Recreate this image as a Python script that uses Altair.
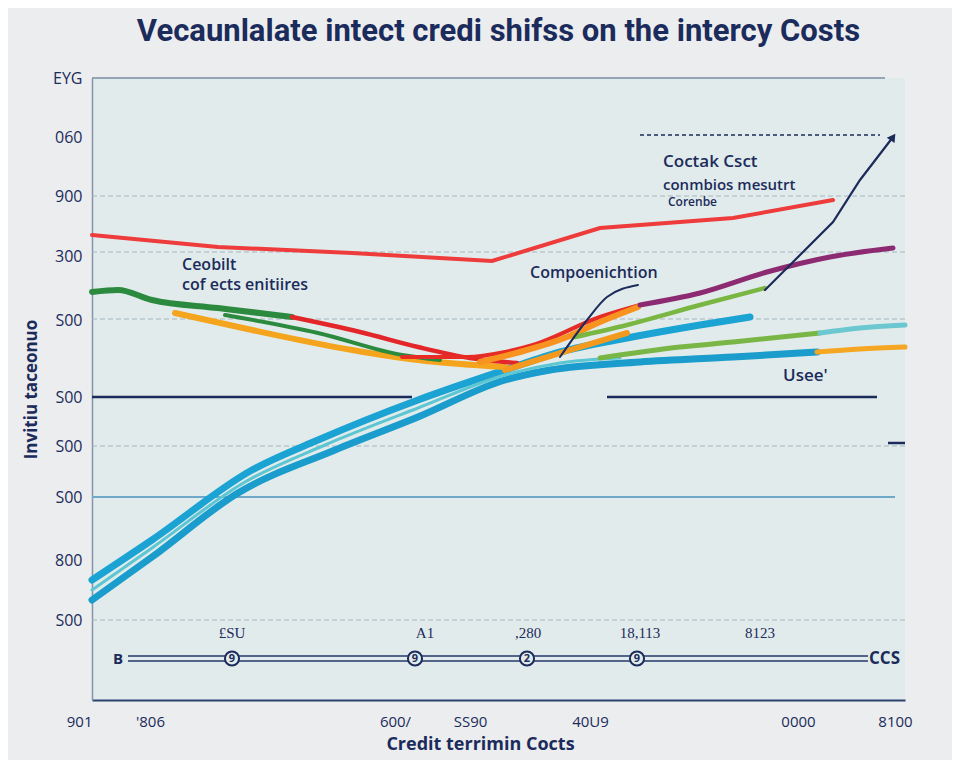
import altair as alt
import pandas as pd

# ---------------- data (chart units) ----------------
red_top_x = [0, 126, 260, 400, 508, 641, 741]
red_top_y = [465, 453, 447, 439, 472, 482, 500]

green_dark_x = [0, 26, 60, 126, 200]
green_dark_y = [408, 410, 400, 392, 383]

red_mid_x = [200, 268, 326, 378, 425]
red_mid_y = [383, 368, 353, 342, 337]

green_low_x = [133, 226, 310, 348]
green_low_y = [385, 367, 345, 340]

orange_main_x = [83, 160, 260, 326, 413]
orange_main_y = [387, 370, 350, 340, 333]

red_low_x = [310, 375, 413, 441, 508, 548]
red_low_y = [343, 343, 348, 355, 383, 395]

orange_up_x = [388, 428, 475, 508, 546]
orange_up_y = [338, 348, 363, 378, 393]

orange_low_x = [413, 478, 535]
orange_low_y = [330, 350, 367]

purple_x = [548, 608, 675, 738, 801]
purple_y = [395, 407, 428, 443, 452]

lime_x = [483, 535, 608, 673]
lime_y = [363, 375, 395, 412]

green_long_x = [508, 588, 641, 728]
green_long_y = [342, 353, 358, 367]

teal_end_x = [728, 768, 813]
teal_end_y = [367, 372, 375]

cyan_top_x = [0, 60, 160, 226, 326, 413, 468, 535, 608, 658]
cyan_top_y = [120, 160, 230, 260, 300, 330, 348, 362, 375, 383]

cyan_bot_x = [0, 60, 146, 243, 326, 413, 458, 548, 641, 725]
cyan_bot_y = [100, 143, 207, 250, 283, 320, 330, 338, 343, 348]

teal_mid_x = [0, 60, 153, 233, 326, 413, 468, 528]
teal_mid_y = [110, 152, 218, 255, 292, 325, 337, 342]

orange_end_x = [725, 768, 813]
orange_end_y = [348, 351, 353]

navy_short_x = [468, 495, 515, 546]
navy_short_y = [343, 380, 403, 415]

navy_arrow_x = [673, 698, 741, 768, 801]
navy_arrow_y = [410, 435, 478, 520, 563]

# axis ticks
y_ticks = [622, 563, 504, 444, 380, 303, 254, 203, 140, 80]
y_labels = ["EYG", "060", "900", "300", "S00", "S00", "S00", "S00", "800", "S00"]
x_ticks = [0, 58, 303, 378, 498, 706, 803]
x_labels = ["901", "'806", "600/", "SS90", "40U9", "0000", "8100"]

# reference lines
grid_y = [504, 448, 381, 254, 80]
solid_x = [0, 515, 0, 796, 0]
solid_x2 = [320, 785, 803, 813, 793]
solid_y = [303, 303, 203, 257, 622]
solid_kind = ["navy", "navy", "blue", "navy", "top"]

# timeline row
tl_line_y = [44, 39]
tl_circle_x = [140, 323, 435, 545]
tl_circle_glyph = ["9", "9", "2", "9"]
tl_label_x = [140, 333, 436, 548, 668]
tl_label_text = ["£SU", "A1", ",280", "18,113", "8123"]

# annotations
note_x = [90, 90, 438, 571, 571, 576, 691]
note_y = [435, 415, 427, 538, 515, 498, 324]
note_text = ["Ceobilt", "cof ects enitiires", "Compoenichtion", "Coctak Csct",
             "conmbios mesutrt", "Corenbe", "Usee'"]
note_size = [16, 16, 16, 17, 15, 12, 17]

NAVY = "#1b2b5b"
BG = "#ebedee"
PLOT_BG = "#e2ebeb"

xs = alt.Scale(domain=[0, 813], nice=False, zero=False)
ys = alt.Scale(domain=[0, 622], nice=False, zero=False)

y_expr = "[" + ",".join(f"'{l}'" for l in y_labels) + "][indexof([" + ",".join(str(v) for v in y_ticks) + "], datum.value)]"
x_expr = "[" + ",".join(f"'{l}'" if "'" not in l else f"\"{l}\"" for l in x_labels) + "][indexof([" + ",".join(str(v) for v in x_ticks) + "], datum.value)]"

x_axis = alt.Axis(values=x_ticks, labelExpr=x_expr, grid=False, ticks=False,
                  domainColor="#2c4170", domainWidth=2, labelColor=NAVY,
                  labelFont="Open Sans", labelFontSize=15, labelPadding=14,
                  labelAlign={"condition": {"test": "datum.value <= 0", "value": "right"}, "value": "center"},
                  title="Credit terrimin Cocts", titleFont="Open Sans", titleFontSize=18,
                  titleFontWeight="bold", titleColor=NAVY, titlePadding=6, titleX=388)
y_axis = alt.Axis(values=y_ticks, labelExpr=y_expr, grid=False, ticks=False,
                  domainColor="#8394aa", domainWidth=1.5, labelColor=NAVY,
                  labelFont="Open Sans", labelFontSize=16, labelPadding=10,
                  title="Invitiu taceonuo", titleFont="Open Sans", titleFontSize=17,
                  titleFontWeight="bold", titleColor=NAVY, titlePadding=12)

X = alt.X("x:Q", scale=xs, axis=x_axis)
Y = alt.Y("y:Q", scale=ys, axis=y_axis)
X2 = alt.X2("x2:Q")

layers = []

# gridlines
grid_df = pd.DataFrame({"x": [0] * len(grid_y), "x2": [813] * len(grid_y), "y": grid_y})
layers.append(alt.Chart(grid_df).mark_rule(color="#a3b6c0", strokeWidth=1, strokeDash=[5, 3])
              .encode(x=X, x2=X2, y=Y))

# top dashed navy
top_dash = pd.DataFrame({"x": [548], "x2": [788], "y": [565]})
layers.append(alt.Chart(top_dash).mark_rule(color=NAVY, strokeWidth=1.3, strokeDash=[4, 3])
              .encode(x=X, x2=X2, y=Y))

# solid reference lines
solid_df = pd.DataFrame({"x": solid_x, "x2": solid_x2, "y": solid_y, "k": solid_kind})
layers.append(alt.Chart(solid_df).mark_rule().encode(
    x=X, x2=X2, y=Y,
    color=alt.Color("k:N", scale=alt.Scale(domain=["navy", "blue", "top"],
                                           range=[NAVY, "#6fa8c8", "#7b8ca2"]), legend=None),
    strokeWidth=alt.StrokeWidth("k:N", scale=alt.Scale(domain=["navy", "blue", "top"],
                                                       range=[2.5, 1.5, 2]), legend=None)))

series = [
    ("cyan_bot", cyan_bot_x, cyan_bot_y, "#1a9ccc", 7, "monotone"),
    ("cyan_top", cyan_top_x, cyan_top_y, "#1ba3d3", 7, "monotone"),
    ("teal_mid", teal_mid_x, teal_mid_y, "#5cc6d2", 3, "monotone"),
    ("orange_main", orange_main_x, orange_main_y, "#f5a41d", 6, "monotone"),
    ("green_low", green_low_x, green_low_y, "#2b8a3e", 4, "monotone"),
    ("green_dark", green_dark_x, green_dark_y, "#2b8a3e", 6, "monotone"),
    ("red_mid", red_mid_x, red_mid_y, "#e3262a", 4.5, "monotone"),
    ("red_top", red_top_x, red_top_y, "#ee3b3b", 4, "linear"),
    ("orange_low", orange_low_x, orange_low_y, "#f39a1e", 6, "monotone"),
    ("red_low", red_low_x, red_low_y, "#e62c25", 4, "monotone"),
    ("orange_up", orange_up_x, orange_up_y, "#f7931e", 6, "monotone"),
    ("purple", purple_x, purple_y, "#8c2a72", 5, "monotone"),
    ("lime", lime_x, lime_y, "#7ab642", 4.5, "monotone"),
    ("green_long", green_long_x, green_long_y, "#79b646", 5, "monotone"),
    ("teal_end", teal_end_x, teal_end_y, "#6cc8d0", 5, "monotone"),
    ("orange_end", orange_end_x, orange_end_y, "#f5a623", 5, "monotone"),
    ("navy_short", navy_short_x, navy_short_y, NAVY, 2, "monotone"),
    ("navy_arrow", navy_arrow_x, navy_arrow_y, NAVY, 2.2, "linear"),
]
for name, sx, sy, col, w, interp in series:
    df = pd.DataFrame({"x": sx, "y": sy})
    layers.append(alt.Chart(df).mark_line(color=col, strokeWidth=w, interpolate=interp,
                                          strokeCap="round").encode(x=X, y=Y))

# arrow head
head_df = pd.DataFrame({"x": [navy_arrow_x[-1]], "y": [navy_arrow_y[-1]]})
layers.append(alt.Chart(head_df).mark_point(shape="triangle-up", filled=True, color=NAVY,
                                            size=90, angle=35, opacity=1).encode(x=X, y=Y))

# timeline double line
tl_df = pd.DataFrame({"x": [36, 36], "x2": [776, 776], "y": tl_line_y})
layers.append(alt.Chart(tl_df).mark_rule(color="#23386a", strokeWidth=1.5).encode(x=X, x2=X2, y=Y))
circ_df = pd.DataFrame({"x": tl_circle_x, "y": [41.5] * len(tl_circle_x), "g": tl_circle_glyph})
layers.append(alt.Chart(circ_df).mark_point(shape="circle", filled=True, fill=PLOT_BG, stroke=NAVY,
                                            strokeWidth=2, size=200, opacity=1).encode(x=X, y=Y))
layers.append(alt.Chart(circ_df).mark_text(font="Open Sans", fontSize=11, fontWeight="bold",
                                           color=NAVY, baseline="middle").encode(x=X, y=Y, text="g:N"))
ends_df = pd.DataFrame({"x": [26, 777], "y": [41.5, 41.5], "t": ["B", "CCS"]})
layers.append(alt.Chart(ends_df.iloc[[0]]).mark_text(font="Open Sans", fontSize=15, fontWeight="bold",
                                                     color=NAVY, baseline="middle", align="center")
              .encode(x=X, y=Y, text="t:N"))
layers.append(alt.Chart(ends_df.iloc[[1]]).mark_text(font="Open Sans", fontSize=17, fontWeight="bold",
                                                     color=NAVY, baseline="middle", align="left")
              .encode(x=X, y=Y, text="t:N"))
tl_lab_df = pd.DataFrame({"x": tl_label_x, "y": [67] * len(tl_label_x), "t": tl_label_text})
layers.append(alt.Chart(tl_lab_df).mark_text(font="Liberation Serif", fontSize=15, color=NAVY,
                                             baseline="middle").encode(x=X, y=Y, text="t:N"))

# annotations
note_df = pd.DataFrame({"x": note_x, "y": note_y, "t": note_text, "s": note_size})
layers.append(alt.Chart(note_df).mark_text(font="Open Sans", fontWeight=600, color=NAVY,
                                           align="left", baseline="middle")
              .encode(x=X, y=Y, text="t:N", size=alt.Size("s:Q", scale=None, legend=None)))

chart = alt.layer(*layers).properties(
    width=813, height=622,
    padding={"left": 84, "top": 70, "right": 47, "bottom": 60},
    autosize=alt.AutoSizeParams(type="none"),
    background=BG,
    title=alt.TitleParams("Vecaunlalate intect credi shifss on the intercy Costs",
                          font="Roboto", fontSize=31, fontWeight="bold", color=NAVY,
                          anchor="middle", offset=22),
).configure_view(fill=PLOT_BG, stroke=None)

chart.save("out.html", embed_options={"renderer": "svg", "actions": False})
